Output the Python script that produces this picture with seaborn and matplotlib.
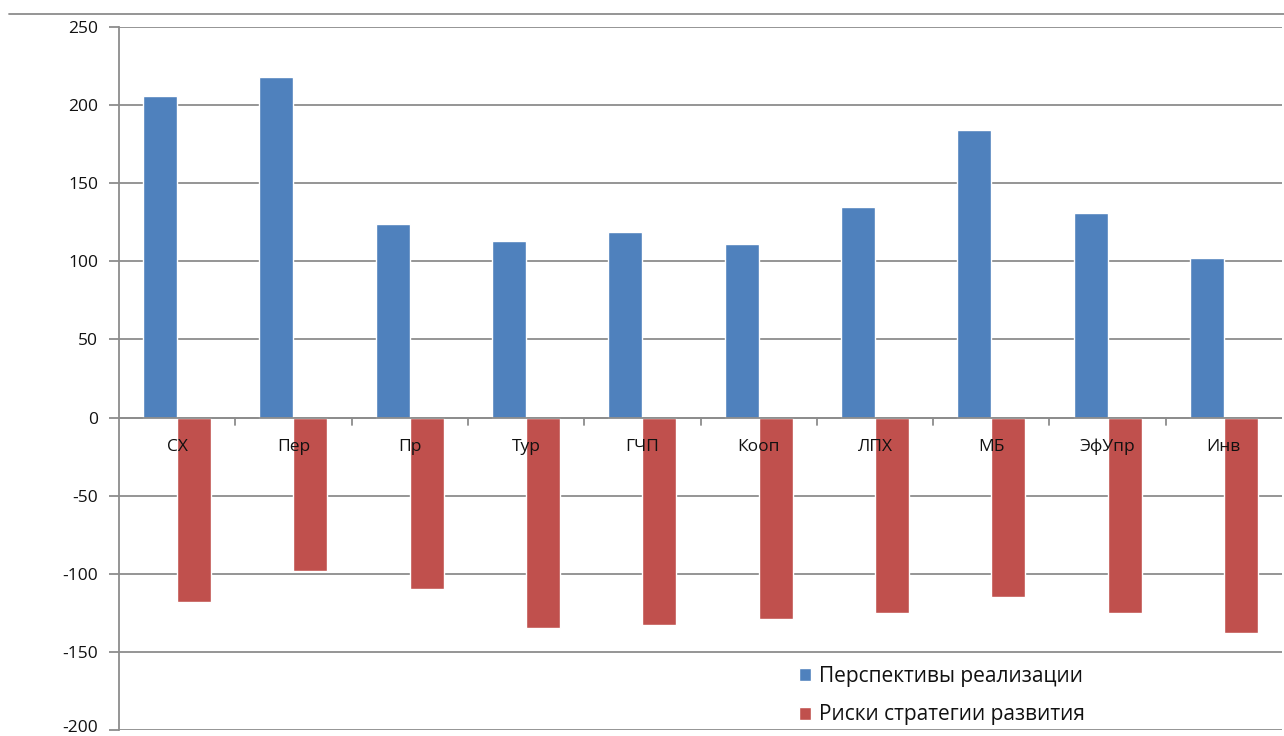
import matplotlib
matplotlib.use("Agg")
import matplotlib.pyplot as plt
from matplotlib.lines import Line2D
from matplotlib.transforms import ScaledTranslation
import seaborn as sns
import pandas as pd

categories = ["СХ", "Пер", "Пр", "Тур", "ГЧП", "Кооп", "ЛПХ", "МБ", "ЭфУпр", "Инв"]
prospects = [206, 218, 124, 113, 119, 111, 135, 184, 131, 102]
risks = [-118, -98, -110, -135, -133, -129, -125, -115, -125, -138]
series_names = ["Перспективы реализации", "Риски стратегии развития"]
yticks = [-200, -150, -100, -50, 0, 50, 100, 150, 200, 250]

df = pd.DataFrame({
    "cat": categories * 2,
    "val": prospects + risks,
    "series": [series_names[0]] * len(categories) + [series_names[1]] * len(categories),
})

sns.set_style("white")
plt.rcParams["font.family"] = ["Open Sans", "DejaVu Sans"]

fig = plt.figure(figsize=(12.84, 7.36), dpi=100)
ax = fig.add_axes([119 / 1284, 1 - 730 / 736, (1282 - 119) / 1284, (730 - 27) / 736])

sns.barplot(data=df, x="cat", y="val", hue="series", order=categories,
            hue_order=series_names, palette=["#4F81BD", "#C0504D"],
            width=0.585, saturation=1, ax=ax, legend=True, zorder=3)

ax.set_ylim(-200, 250)
ax.set_xlim(-0.5, len(categories) - 0.5)
ax.set_yticks(yticks)
ax.set_yticklabels([str(t) for t in yticks], fontsize=12.5, color="#111111")
ax.yaxis.grid(True, color="#8c8c8c", linewidth=1.3, zorder=0)
ax.set_axisbelow(True)
ax.tick_params(axis="y", length=7, width=1.3, color="#8c8c8c", pad=8, left=True)
ax.set_xlabel("")
ax.set_ylabel("")

# keep the lowest tick label fully inside the picture
low = ax.get_yticklabels()[0]
low.set_transform(low.get_transform() + ScaledTranslation(0, 4 / 100, fig.dpi_scale_trans))

# hide default x tick labels; draw category labels below the zero line
ax.set_xticks([])
for i, c in enumerate(categories):
    ax.text(i, -13.5, c, ha="center", va="top", fontsize=12.5, color="#111111", zorder=5)
# category boundary ticks on zero line
for i in range(1, len(categories)):
    ax.plot([i - 0.5, i - 0.5], [0, -4.5], color="#8c8c8c", lw=1.3, zorder=4, clip_on=False)
ax.axhline(0, color="#8c8c8c", lw=1.3, zorder=4)

for s in ["top", "right", "bottom"]:
    ax.spines[s].set_visible(False)
ax.spines["left"].set_color("#8c8c8c")
ax.spines["left"].set_linewidth(1.3)

handles, labels = ax.get_legend_handles_labels()
ax.legend(handles, labels, loc="upper left", bbox_to_anchor=(780 / 1284, 1 - 647 / 736),
          bbox_transform=fig.transFigure, frameon=False, fontsize=15, labelcolor="#111111",
          handlelength=0.6, handleheight=0.6, handletextpad=0.35, labelspacing=0.85)

fig.add_artist(Line2D([9 / 1284, 1], [1 - 14 / 736, 1 - 14 / 736], color="#8c8c8c", lw=1.3))

fig.savefig("out.png", dpi=100)
